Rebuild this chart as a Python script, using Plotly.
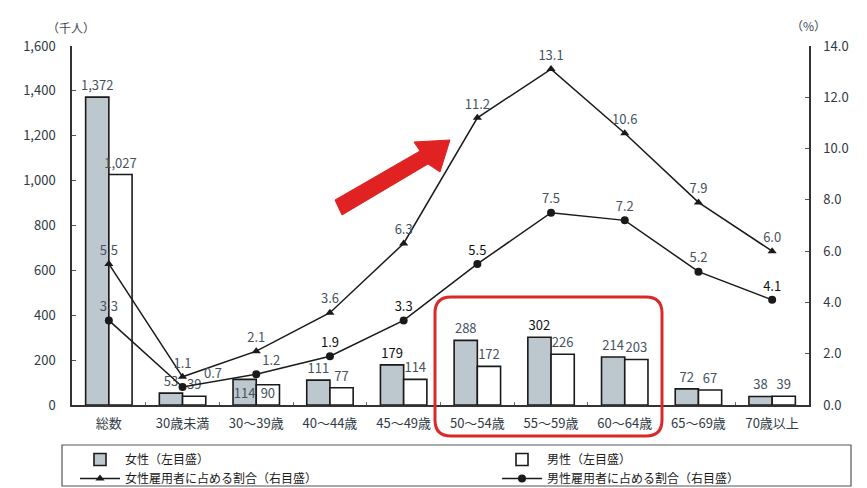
import plotly.graph_objects as go

categories = ["総数", "30歳未満", "30～39歳", "40～44歳", "45～49歳",
              "50～54歳", "55～59歳", "60～64歳", "65～69歳", "70歳以上"]
female = [1372, 53, 114, 111, 179, 288, 302, 214, 72, 38]
male = [1027, 39, 90, 77, 114, 172, 226, 203, 67, 39]
female_ratio = [5.5, 1.1, 2.1, 3.6, 6.3, 11.2, 13.1, 10.6, 7.9, 6.0]
male_ratio = [3.3, 0.7, 1.2, 1.9, 3.3, 5.5, 7.5, 7.2, 5.2, 4.1]
left_ticks = [0, 200, 400, 600, 800, 1000, 1200, 1400, 1600]
right_ticks = [0, 2, 4, 6, 8, 10, 12, 14]

FONT = "Noto Sans CJK JP"
GRAY = "#45525e"
BLACK = "#111111"

W, H = 867, 488
ML, MR, MT, MB = 72, 58, 46, 83
PW, PH = W - ML - MR, H - MT - MB


def px(x):
    return (x - ML) / PW


def py(y):
    return (H - MB - y) / PH


female_lbl_col = [GRAY, GRAY, GRAY, GRAY, BLACK, GRAY, BLACK, GRAY, GRAY, GRAY]
male_lbl_col = [GRAY] * len(male)
fr_col = [GRAY] * len(female_ratio)
mr_col = [GRAY, GRAY, GRAY, BLACK, BLACK, BLACK, GRAY, GRAY, GRAY, BLACK]

bar_pos = ["outside"] * len(categories)
bar_pos[2] = "inside"
fr_pos = ["top center"] * len(categories)
mr_pos = ["top center"] * len(categories)
mr_pos[2] = "top right"

mr_text = [f"{v:.1f}" for v in male_ratio]
mr_text[1] = ""  # placed as a shifted annotation below

fig = go.Figure()
fig.add_trace(go.Bar(
    x=categories, y=female, name="女性（左目盛）",
    marker=dict(color="#bcc7ce", line=dict(color="#1a1a1a", width=1.6)),
    text=[f"{v:,}" for v in female], textposition=bar_pos, textangle=0,
    insidetextanchor="start", constraintext="none", cliponaxis=False,
    textfont=dict(size=13, color=female_lbl_col, family=FONT),
    insidetextfont=dict(size=13, color=GRAY, family=FONT),
    legend="legend",
))
fig.add_trace(go.Bar(
    x=categories, y=male, name="男性（左目盛）",
    marker=dict(color="#ffffff", line=dict(color="#1a1a1a", width=1.6)),
    text=[f"{v:,}" for v in male], textposition=bar_pos, textangle=0,
    insidetextanchor="start", constraintext="none", cliponaxis=False,
    textfont=dict(size=13, color=male_lbl_col, family=FONT),
    insidetextfont=dict(size=13, color=GRAY, family=FONT),
    legend="legend2",
))
fig.add_trace(go.Scatter(
    x=categories, y=female_ratio, name="女性雇用者に占める割合（右目盛）",
    yaxis="y2", mode="lines+markers+text",
    line=dict(color="#1a1a1a", width=1.5),
    marker=dict(symbol="triangle-up", size=8, color="#1a1a1a"),
    text=[f"{v:.1f}" for v in female_ratio], textposition=fr_pos,
    textfont=dict(size=13, color=fr_col, family=FONT), cliponaxis=False,
    legend="legend",
))
fig.add_trace(go.Scatter(
    x=categories, y=male_ratio, name="男性雇用者に占める割合（右目盛）",
    yaxis="y2", mode="lines+markers+text",
    line=dict(color="#1a1a1a", width=1.5),
    marker=dict(symbol="circle", size=8, color="#1a1a1a"),
    text=mr_text, textposition=mr_pos,
    textfont=dict(size=13, color=mr_col, family=FONT), cliponaxis=False,
    legend="legend2",
))

# red arrow (block arrow polygon, pixel geometry converted to paper coords)
arrow_px = [(335, 200), (420, 151), (414, 142), (450, 140), (440, 172),
            (428, 164), (342, 215)]
arrow_path = "M " + " L ".join(f"{px(x):.5f},{py(y):.5f}" for x, y in arrow_px) + " Z"

# red rounded rectangle around 50-64
x0, y0, x1, y1, r = 435, 297, 662, 436, 16
rr = [
    f"M {px(x0 + r):.5f},{py(y0):.5f}",
    f"L {px(x1 - r):.5f},{py(y0):.5f}",
    f"Q {px(x1):.5f},{py(y0):.5f} {px(x1):.5f},{py(y0 + r):.5f}",
    f"L {px(x1):.5f},{py(y1 - r):.5f}",
    f"Q {px(x1):.5f},{py(y1):.5f} {px(x1 - r):.5f},{py(y1):.5f}",
    f"L {px(x0 + r):.5f},{py(y1):.5f}",
    f"Q {px(x0):.5f},{py(y1):.5f} {px(x0):.5f},{py(y1 - r):.5f}",
    f"L {px(x0):.5f},{py(y0 + r):.5f}",
    f"Q {px(x0):.5f},{py(y0):.5f} {px(x0 + r):.5f},{py(y0):.5f} Z",
]

fig.update_layout(
    width=W, height=H,
    margin=dict(l=ML, r=MR, t=MT, b=MB, pad=0, autoexpand=False),
    paper_bgcolor="white", plot_bgcolor="white",
    font=dict(family=FONT, size=13, color=GRAY),
    barmode="group", bargap=0.37, bargroupgap=0.0,
    xaxis=dict(
        showline=True, linecolor="#333333", linewidth=1.5,
        ticks="inside", ticklen=3, tickcolor="#666666", tickson="boundaries",
        showgrid=False, tickfont=dict(size=13, color="#2f3a44", family=FONT),
        ticklabelstandoff=6, range=[-0.5, 9.5],
    ),
    yaxis=dict(
        range=[0, 1600], tickvals=left_ticks,
        ticktext=[f"{v:,}" for v in left_ticks],
        showline=True, linecolor="#333333", linewidth=1.5,
        ticks="inside", ticklen=4, tickcolor="#555555",
        showgrid=False, zeroline=False,
        tickfont=dict(size=13, color="#2f3a44", family=FONT),
        ticklabelstandoff=12,
    ),
    yaxis2=dict(
        range=[0, 14], tickvals=right_ticks, tickformat=".1f",
        overlaying="y", side="right",
        showline=True, linecolor="#333333", linewidth=1.5,
        ticks="inside", ticklen=4, tickcolor="#555555",
        showgrid=False, zeroline=False,
        tickfont=dict(size=13, color="#2f3a44", family=FONT),
        ticklabelstandoff=10,
    ),
    legend=dict(
        orientation="v", x=px(75), y=py(445), xanchor="left", yanchor="top",
        font=dict(size=12, color="#1a1a1a", family=FONT),
        bgcolor="rgba(0,0,0,0)", tracegroupgap=0, itemwidth=40,
    ),
    legend2=dict(
        orientation="v", x=px(497), y=py(445), xanchor="left", yanchor="top",
        font=dict(size=12, color="#1a1a1a", family=FONT),
        bgcolor="rgba(0,0,0,0)", tracegroupgap=0, itemwidth=40,
    ),
    shapes=[
        dict(type="path", xref="paper", yref="paper", path=arrow_path,
             fillcolor="#e02222", line=dict(color="#e02222", width=1)),
        dict(type="path", xref="paper", yref="paper", path=" ".join(rr),
             fillcolor="rgba(0,0,0,0)", line=dict(color="#d92a2a", width=3)),
        dict(type="rect", xref="paper", yref="paper",
             x0=px(62), x1=px(851), y0=py(486), y1=py(445),
             line=dict(color="#555555", width=1.2), fillcolor="rgba(0,0,0,0)",
             layer="below"),
    ],
    annotations=[
        dict(text="（千人）", xref="paper", yref="paper", x=px(45), y=py(17),
             showarrow=False, font=dict(size=12, color="#3b4650", family=FONT)),
        dict(text="（%）", xref="paper", yref="paper", x=px(828), y=py(15),
             showarrow=False, font=dict(size=12, color="#3b4650", family=FONT)),
        dict(text=f"{male_ratio[1]:.1f}", xref="x", yref="y2",
             x=categories[1], y=male_ratio[1], xshift=30, yshift=15,
             showarrow=False, font=dict(size=13, color=GRAY, family=FONT)),
    ],
)

fig.write_html("out.html")
